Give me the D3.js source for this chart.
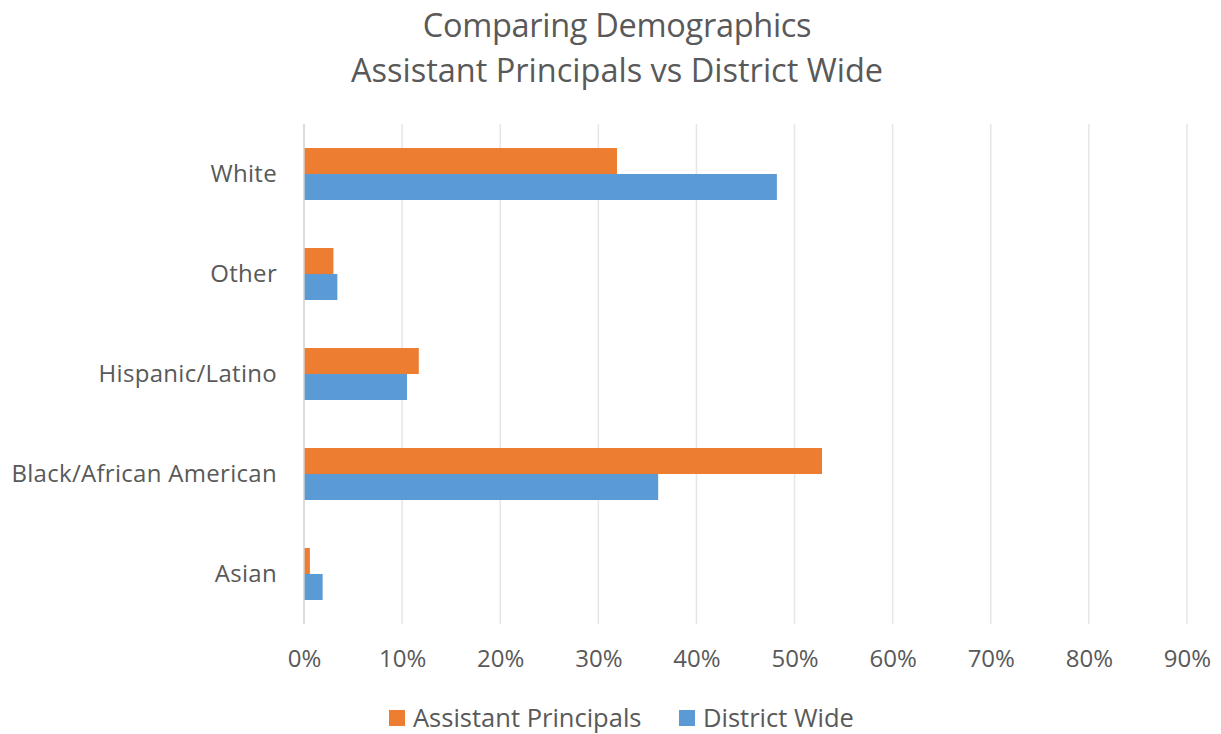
<!DOCTYPE html>
<html>
<head>
<meta charset="utf-8">
<script src="https://cdn.jsdelivr.net/npm/d3@7"></script>
<style>
  html, body { margin: 0; padding: 0; background: #fff; }
  svg { display: block; font-family: "Open Sans", "Noto Sans", sans-serif; }
</style>
</head>
<body>
<svg id="chart" width="1221" height="734"></svg>
<script>
// Demographic shares (percent) by group, top to bottom as drawn
const categories = ["White", "Other", "Hispanic/Latino", "Black/African American", "Asian"];
const assistantPrincipals = [31.9, 3.0, 11.7, 52.8, 0.6];
const districtWide = [48.2, 3.4, 10.5, 36.1, 1.9];
const seriesNames = ["Assistant Principals", "District Wide"];
const seriesColors = ["#ED7D31", "#5B9BD5"];
const xTicks = [0, 10, 20, 30, 40, 50, 60, 70, 80, 90];
const titleLines = ["Comparing Demographics", "Assistant Principals vs District Wide"];

const svg = d3.select("#chart");
const textColor = "#595959";
const fontStack = '"Open Sans", "Noto Sans", sans-serif';

const margin = { left: 304, right: 34, top: 124, bottom: 110 };
const width = 1221, height = 734;

const x = d3.scaleLinear().domain([0, 90]).range([margin.left, width - margin.right]);
const y = d3.scaleBand().domain(categories)
  .range([margin.top, height - margin.bottom]).paddingInner(0.48).paddingOuter(0.24);
const sub = d3.scaleBand().domain(seriesNames).range([0, y.bandwidth()]);

// Title
svg.append("g").selectAll("text").data(titleLines).join("text")
  .attr("x", 617).attr("y", (d, i) => 37 + i * 45)
  .attr("text-anchor", "middle").attr("font-size", 32.5).attr("fill", textColor)
  .attr("letter-spacing", (d, i) => i === 0 ? -0.3 : 0)
  .text(d => d);

// Vertical gridlines
svg.append("g").selectAll("line").data(xTicks.slice(1)).join("line")
  .attr("x1", d => x(d)).attr("x2", d => x(d))
  .attr("y1", margin.top).attr("y2", height - margin.bottom)
  .attr("stroke", "#e6e6e6").attr("stroke-width", 1.5);

// Bars
const rows = categories.map((c, i) => ({ c, vals: [assistantPrincipals[i], districtWide[i]] }));
const groups = svg.append("g").selectAll("g").data(rows).join("g")
  .attr("transform", d => `translate(0,${y(d.c)})`);
groups.selectAll("rect").data(d => d.vals.map((v, j) => ({ v, s: seriesNames[j], color: seriesColors[j] })))
  .join("rect")
  .attr("x", x(0)).attr("y", d => sub(d.s))
  .attr("width", d => x(d.v) - x(0)).attr("height", sub.bandwidth())
  .attr("fill", d => d.color);

// Axis line at zero
svg.append("line")
  .attr("x1", x(0)).attr("x2", x(0))
  .attr("y1", margin.top).attr("y2", height - margin.bottom)
  .attr("stroke", "#d0d0d0").attr("stroke-width", 1.5);

// X axis tick labels
const xAxis = d3.axisBottom(x).tickValues(xTicks).tickSize(0).tickPadding(0)
  .tickFormat(d => d + "%");
const xg = svg.append("g").attr("transform", `translate(0,${height - margin.bottom + 35})`).call(xAxis);
xg.select(".domain").remove();
xg.selectAll("text").attr("font-size", 24).attr("fill", textColor)
  .attr("font-family", fontStack).attr("dy", "0.35em");

// Y axis category labels
const yAxis = d3.axisLeft(y).tickSize(0).tickPadding(27);
const yg = svg.append("g").attr("transform", `translate(${x(0)},0)`).call(yAxis);
yg.select(".domain").remove();
yg.selectAll("text").attr("font-size", 24).attr("fill", textColor)
  .attr("font-family", fontStack).attr("letter-spacing", 0.3);

// Legend
const legendItems = [
  { name: seriesNames[0], color: seriesColors[0], x: 389 },
  { name: seriesNames[1], color: seriesColors[1], x: 679 }
];
const lg = svg.append("g").selectAll("g").data(legendItems).join("g")
  .attr("transform", d => `translate(${d.x},710)`);
lg.append("rect").attr("width", 16).attr("height", 16).attr("fill", d => d.color);
lg.append("text").attr("x", 24).attr("y", 8).attr("dy", "0.35em")
  .attr("font-size", 25.5).attr("fill", textColor).text(d => d.name);
</script>
</body>
</html>
